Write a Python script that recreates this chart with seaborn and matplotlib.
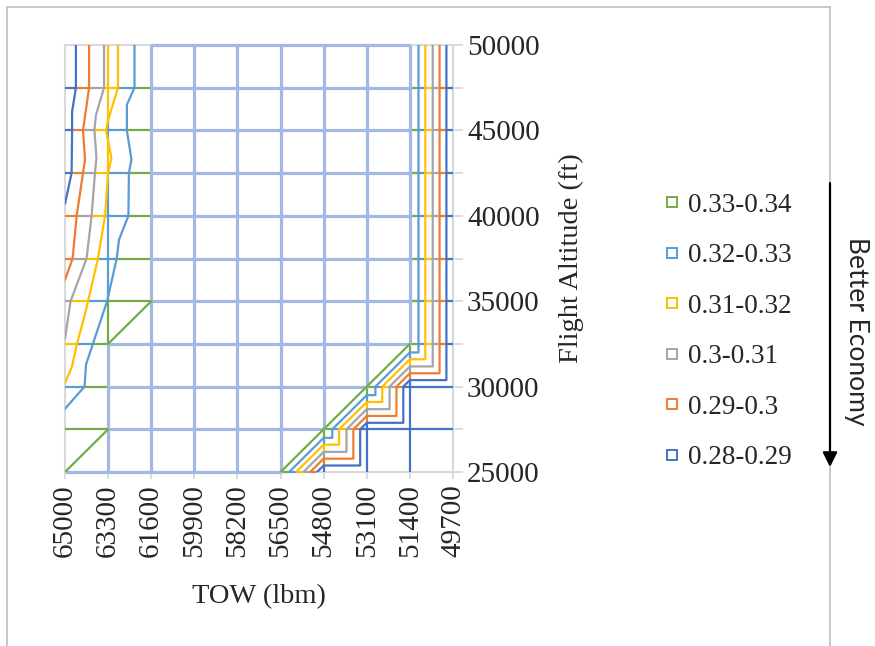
import numpy as np
import matplotlib
matplotlib.use("Agg")
import matplotlib.pyplot as plt
import seaborn as sns
from matplotlib.path import Path
from matplotlib.collections import LineCollection
from matplotlib.lines import Line2D
from matplotlib.patches import FancyArrowPatch

# ---------------- data ----------------
tow_ticks = [65000, 63300, 61600, 59900, 58200, 56500, 54800, 53100, 51400, 49700]
alt_grid = [25000, 27500, 30000, 32500, 35000, 37500, 40000, 42500, 45000, 47500, 50000]
alt_labels = [25000, 30000, 35000, 40000, 45000, 50000]

bands = ["0.28-0.29", "0.29-0.3", "0.3-0.31", "0.31-0.32", "0.32-0.33", "0.33-0.34"]
band_colors = ["#4472C4", "#ED7D31", "#A5A5A5", "#FFC000", "#5B9BD5", "#70AD47"]
mid_color = "#A3B8E4"

# left side (heavy TOW) band boundaries, from top (50000 ft) down to the left edge
left_029_tow = [64570, 64570, 64720, 64720, 64740, 65000]
left_029_alt = [50000, 47500, 46100, 45000, 42500, 40700]
left_030_tow = [64050, 64050, 64290, 64210, 64290, 64540, 64700, 65000]
left_030_alt = [50000, 47500, 45000, 43300, 42500, 40000, 37500, 36250]
left_031_tow = [63460, 63460, 63780, 63840, 63760, 63820, 63950, 64150, 64780, 65000]
left_031_alt = [50000, 47500, 45900, 45000, 43400, 42500, 40000, 37500, 35000, 32800]
left_032_tow = [62910, 62910, 63300, 63380, 63170, 63300, 63420, 63700, 64090, 64290, 64530, 64720, 65000]
left_032_alt = [50000, 47500, 45600, 45000, 43400, 42500, 40000, 37500, 35000, 33800, 32500, 31200, 30200]
left_033_tow = [62260, 62260, 62560, 62560, 62380, 62480, 62500, 62870, 62960, 63340, 63900, 64170, 64230, 65000]
left_033_alt = [50000, 47500, 46500, 45000, 43300, 42500, 40000, 38600, 37500, 35000, 32500, 31300, 30000, 28700]
left_034_tow = [61600, 61600, 63300, 63300, 65000]
left_034_alt = [50000, 35000, 32500, 27500, 25000]

# right side (light TOW) band boundaries, from the bottom (25000 ft) up to the top
right_033_tow = [56160, 54800, 54460, 54460, 53100, 52760, 52760, 51400, 51060, 51060]
right_033_alt = [25000, 27000, 27000, 27500, 29500, 29500, 30000, 32000, 32000, 50000]
right_032_tow = [55890, 54800, 54190, 54190, 53100, 52490, 52490, 51400, 50790, 50790]
right_032_alt = [25000, 26600, 26600, 27500, 29100, 29100, 30000, 31600, 31600, 50000]
right_031_tow = [55600, 54800, 53900, 53900, 53100, 52200, 52200, 51400, 50500, 50500]
right_031_alt = [25000, 26180, 26180, 27500, 28680, 28680, 30000, 31180, 31180, 50000]
right_030_tow = [55330, 54800, 53630, 53630, 53100, 51930, 51930, 51400, 50230, 50230]
right_030_alt = [25000, 25780, 25780, 27500, 28280, 28280, 30000, 30780, 30780, 50000]
right_029_tow = [55060, 54800, 53360, 53360, 53100, 51660, 51660, 51400, 49960, 49960]
right_029_alt = [25000, 25380, 25380, 27500, 27880, 27880, 30000, 30380, 30380, 50000]
right_034_tow = [56500, 51400, 51400]
right_034_alt = [25000, 32500, 50000]

# ---------------- style ----------------
sns.set_style("white")
plt.rcParams["font.family"] = ["Liberation Serif", "DejaVu Serif"]

fig = plt.figure(figsize=(8.75, 6.46), dpi=100)
ax = fig.add_axes([65 / 875, 174 / 646, 388 / 875, 427 / 646])
ax.set_xlim(tow_ticks[0], tow_ticks[-1])
ax.set_ylim(alt_grid[0], alt_grid[-1])

left_lines = [(left_029_tow, left_029_alt, 0), (left_030_tow, left_030_alt, 1),
              (left_031_tow, left_031_alt, 2), (left_032_tow, left_032_alt, 3),
              (left_033_tow, left_033_alt, 4)]
right_lines = [(right_029_tow, right_029_alt, 0), (right_030_tow, right_030_alt, 1),
               (right_031_tow, right_031_alt, 2), (right_032_tow, right_032_alt, 3),
               (right_033_tow, right_033_alt, 4)]

eps = 20.0
paths = []
for tw, al, _ in left_lines:
    pts = list(zip(tw, al)) + [(66500, al[-1]), (66500, 51000), (tw[0], 51000)]
    paths.append(Path(pts))
gl = list(zip(np.array(left_034_tow) + eps, left_034_alt))
paths.append(Path(gl + [(66500, 25000), (66500, 51000), (left_034_tow[0] + eps, 51000)]))
for tw, al, _ in right_lines:
    pts = list(zip(tw, al)) + [(tw[-1], 51000), (48000, 51000), (48000, 24000), (tw[0], 24000)]
    paths.append(Path(pts))
gr = list(zip(np.array(right_034_tow) - eps, right_034_alt))
paths.append(Path(gr + [(right_034_tow[-1] - eps, 51000), (48000, 51000), (48000, 24000),
                        (right_034_tow[0] - eps, 24000)]))


def band_of(xs, ys):
    pts = np.column_stack([xs, ys])
    cnt = np.zeros(len(pts), int)
    for p in paths:
        cnt += p.contains_points(pts).astype(int)
    return 6 - cnt


segs = {k: [] for k in range(7)}


def add_line(xs, ys, allowed):
    b = band_of(xs, ys)
    change = np.nonzero(np.diff(b))[0]
    starts = np.r_[0, change + 1]
    ends = np.r_[change, len(b) - 1]
    n = len(b)
    for s, e in zip(starts, ends):
        if b[s] not in allowed:
            continue
        x0 = xs[0] if s == 0 else 0.5 * (xs[s - 1] + xs[s])
        y0 = ys[0] if s == 0 else 0.5 * (ys[s - 1] + ys[s])
        x1 = xs[-1] if e == n - 1 else 0.5 * (xs[e] + xs[e + 1])
        y1 = ys[-1] if e == n - 1 else 0.5 * (ys[e] + ys[e + 1])
        segs[b[s]].append([(x0, y0), (x1, y1)])


N = 1500
for a in alt_grid:
    xs = np.linspace(tow_ticks[0], tow_ticks[-1], N)
    ys = np.full(N, float(a))
    if a == alt_grid[-1]:
        allowed = {6}
    elif a == alt_grid[0]:
        allowed = {1, 2, 3, 4, 5, 6}
    else:
        allowed = set(range(7))
    add_line(xs, ys, allowed)
for t in tow_ticks[1:-1]:
    ys = np.linspace(alt_grid[0], alt_grid[-1], N)
    xs = np.full(N, float(t))
    add_line(xs, ys, set(range(7)))

all_colors = band_colors + [mid_color]
for k in range(7):
    if segs[k]:
        lc = LineCollection(segs[k], colors=all_colors[k], linewidths=2.3 if k == 6 else 1.6,
                            capstyle="butt", zorder=2.6, clip_on=False)
        ax.add_collection(lc)

# band boundary lines
for tw, al, k in left_lines + right_lines:
    sns.lineplot(x=tw, y=al, sort=False, estimator=None, color=band_colors[k],
                 linewidth=1.6, ax=ax, legend=False, zorder=3)
for tw, al in [(left_034_tow, left_034_alt), (right_034_tow, right_034_alt)]:
    for i in range(len(tw) - 1):
        if tw[i] != tw[i + 1] and al[i] != al[i + 1]:
            sns.lineplot(x=[tw[i], tw[i + 1]], y=[al[i], al[i + 1]], sort=False, estimator=None,
                         color=band_colors[5], linewidth=1.6, ax=ax, legend=False, zorder=3)

# ---------------- axes ----------------
ax.yaxis.tick_right()
ax.yaxis.set_label_position("right")
ax.set_yticks(alt_grid)
ax.set_yticklabels([str(a) if a in alt_labels else "" for a in alt_grid], fontsize=21)
ax.set_xticks(tow_ticks)
ax.set_xticklabels([str(t) for t in tow_ticks], rotation=90, fontsize=21)
ax.tick_params(axis="y", which="both", length=7, width=1.3, color="#D9D9D9", pad=3,
               right=True, left=False)
ax.tick_params(axis="x", length=5, width=1.3, color="#D9D9D9", pad=4, bottom=True)
ax.set_xlabel("TOW (lbm)", fontsize=20.5, labelpad=19)
ax.set_ylabel("Flight Altitude (ft)", fontsize=20.5, labelpad=14)
for sp in ax.spines.values():
    sp.set_color("#D9D9D9")
    sp.set_linewidth(1.5)
    sp.set_visible(True)
ax.grid(False)

# ---------------- legend ----------------
handles = [Line2D([], [], linestyle="none", marker="s", markersize=7.5, markerfacecolor="white",
                  markeredgecolor=band_colors[k], markeredgewidth=1.4) for k in range(5, -1, -1)]
labels = [bands[k] for k in range(5, -1, -1)]
fig.legend(handles, labels, loc="center left", bbox_to_anchor=(664 / 875, 314.5 / 646),
           frameon=False, fontsize=19.5, handlelength=0.6, handletextpad=0.3,
           labelspacing=0.94, borderpad=0, borderaxespad=0)

# ---------------- outer frame, arrow, annotation ----------------
fc = "#BFBFBF"
fig.add_artist(Line2D([7 / 875, 7 / 875], [0, 1 - 7 / 646], color=fc, lw=1.2))
fig.add_artist(Line2D([7 / 875, 830 / 875], [1 - 7 / 646, 1 - 7 / 646], color=fc, lw=1.2))
fig.add_artist(Line2D([830 / 875, 830 / 875], [1 - 183 / 646, 1 - 7 / 646], color=fc, lw=1.2))
fig.add_artist(Line2D([830 / 875, 830 / 875], [0, 1 - 467 / 646], color=fc, lw=1.2))
fig.add_artist(FancyArrowPatch((830 / 875, 1 - 183 / 646), (830 / 875, 1 - 467 / 646),
                               transform=fig.transFigure, arrowstyle="-|>", color="black",
                               lw=1.6, mutation_scale=22, shrinkA=0, shrinkB=0, zorder=10))
fig.text(857 / 875, 1 - 331 / 646, "Better Economy", rotation=-90, ha="center", va="center",
         fontsize=19, family=["Lato", "DejaVu Sans"])

fig.savefig("out.png", dpi=100)
